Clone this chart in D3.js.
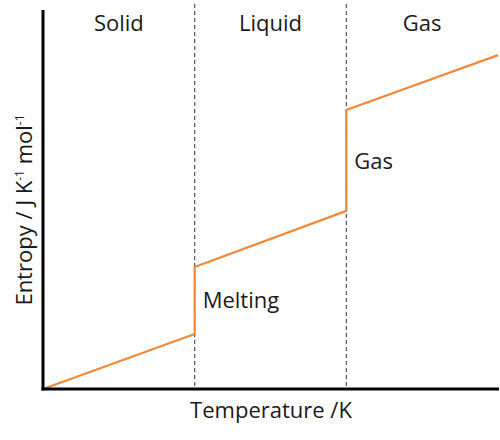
<!DOCTYPE html>
<html>
<head>
<meta charset="utf-8">
<script src="https://cdn.jsdelivr.net/npm/d3@7"></script>
<style>
  body { margin: 0; background: #fff; }
  text { font-family: "Open Sans", Lato, sans-serif; fill: #1a1a1a; }
</style>
</head>
<body>
<div id="chart"></div>
<script>
// data: temperature (arbitrary units) vs entropy (arbitrary units)
var temps = [0, 100, 100, 200, 200, 300];
var entropy = [0, 14.5, 32.2, 47, 73.6, 88.1];
var transitions = [100, 200];
var phases = ["Solid", "Liquid", "Gas"];
var phaseBounds = [0, 100, 200, 300];
var jumpLabels = ["Melting", "Gas"];

var width = 500, height = 440;
var plotLeft = 43, plotRight = 498, plotTop = 10, plotBottom = 389;

var svg = d3.select('#chart').append('svg')
  .attr('width', width)
  .attr('height', height);

var x = d3.scaleLinear().domain([0, 300]).range([plotLeft, plotRight]);
var y = d3.scaleLinear().domain([0, 100]).range([plotBottom, plotTop]);

// dashed phase boundaries
svg.selectAll('.bound')
  .data(transitions)
  .enter().append('line')
  .attr('x1', function(d) { return x(d); })
  .attr('x2', function(d) { return x(d); })
  .attr('y1', 4)
  .attr('y2', plotBottom)
  .attr('stroke', '#555')
  .attr('stroke-width', 1.2)
  .attr('stroke-dasharray', '4,3');

// phase names
svg.selectAll('.phase')
  .data(phases)
  .enter().append('text')
  .attr('x', function(d, i) { return (x(phaseBounds[i]) + x(phaseBounds[i + 1])) / 2; })
  .attr('y', 31)
  .attr('text-anchor', 'middle')
  .style('font-size', '22px')
  .text(function(d) { return d; });

// entropy line
var pts = temps.map(function(t, i) { return [t, entropy[i]]; });
svg.append('path')
  .datum(pts)
  .attr('d', d3.line().x(function(d) { return x(d[0]); }).y(function(d) { return y(d[1]); }))
  .attr('fill', 'none')
  .attr('stroke', '#F0893A')
  .attr('stroke-width', 2.2);

// labels beside the jumps
svg.selectAll('.jump')
  .data(jumpLabels)
  .enter().append('text')
  .attr('x', function(d, i) { return x(transitions[i]) + 8; })
  .attr('y', function(d, i) { return i === 0 ? 308 : 169; })
  .style('font-size', '22px')
  .text(function(d) { return d; });

// axes
svg.append('line')
  .attr('x1', plotLeft).attr('x2', plotLeft)
  .attr('y1', plotTop).attr('y2', plotBottom + 1.5)
  .attr('stroke', '#000').attr('stroke-width', 3);
svg.append('line')
  .attr('x1', plotLeft - 1.5).attr('x2', plotRight + 1)
  .attr('y1', plotBottom).attr('y2', plotBottom)
  .attr('stroke', '#000').attr('stroke-width', 3);

// axis titles
svg.append('text')
  .attr('x', 271)
  .attr('y', 418)
  .attr('text-anchor', 'middle')
  .style('font-size', '22px')
  .text('Temperature /K');

var yt = svg.append('text')
  .attr('transform', 'translate(32,' + 210 + ') rotate(-90)')
  .attr('text-anchor', 'middle')
  .style('font-size', '22px');
yt.append('tspan').text('Entropy / J K');
yt.append('tspan').attr('dy', -8).style('font-size', '12px').text('-1');
yt.append('tspan').attr('dy', 8).text(' mol');
yt.append('tspan').attr('dy', -8).style('font-size', '12px').text('-1');
</script>
</body>
</html>
